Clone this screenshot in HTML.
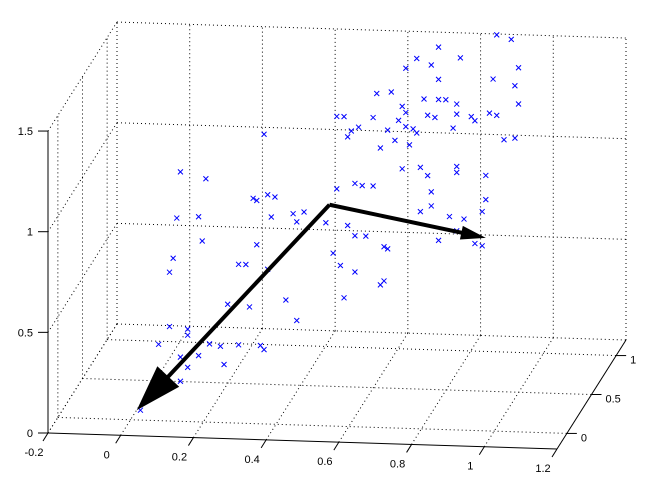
<!DOCTYPE html>
<html><head><meta charset="utf-8"><style>
html,body{margin:0;padding:0;background:#fff;width:649px;height:481px;overflow:hidden}
svg text{font-family:"Liberation Sans",Arial,sans-serif;font-size:11px;fill:#000}
</style></head><body>
<svg id="chart" width="649" height="481" viewBox="0 0 649 481" xmlns="http://www.w3.org/2000/svg">
<g id="grid"></g>
<g id="axes"></g>
<g id="points"></g>
<g id="arrows"></g>
</svg>
<script>
var xTicks = [-0.2, 0, 0.2, 0.4, 0.6, 0.8, 1, 1.2];
var xTickLabels = ["-0.2", "0", "0.2", "0.4", "0.6", "0.8", "1", "1.2"];
var yTicks = [0, 0.5, 1];
var yTickLabels = ["0", "0.5", "1"];
var zTicks = [0, 0.5, 1, 1.5];
var zTickLabels = ["0", "0.5", "1", "1.5"];
var pointX = [0.98,0.82,1.02,0.76,0.80,0.82,0.88,0.73,0.97,1.04,1.03,1.04,0.98,0.96,0.87,0.84,0.78,0.82,0.72,0.73,0.69,0.65,0.64,0.71,0.54,0.56,0.60,0.58,0.57,0.73,0.75,0.76,0.66,0.86,0.87,0.91,0.92,1.00,1.03,0.81,0.79,0.68,0.70,0.74,
0.34,0.11,0.18,0.10,0.16,0.17,0.31,0.35,0.37,0.32,0.36,0.42,0.45,0.54,0.59,0.61,0.64,0.72,0.87,0.77,0.79,0.80,0.87,0.95,0.95,0.94,0.89,0.80,0.77,0.85,0.87,0.82,0.92,0.94,0.59,0.62,0.67,0.68,0.53,0.55,0.59,0.67,0.66,0.56,0.40,0.43,0.27,0.29,0.09,0.08,0.30,0.35,0.32,0.24,0.43,0.51,0.57,
0.08,0.13,0.13,0.05,0.19,0.22,0.27,0.33,0.34,0.11,0.16,0.13,0.23,0.07,0.00,0.11];
var pointY = 0.2;
var pointZ = [1.89,1.82,1.87,1.76,1.73,1.66,1.77,1.71,1.67,1.73,1.64,1.55,1.49,1.50,1.54,1.56,1.56,1.56,1.52,1.49,1.59,1.58,1.46,1.45,1.46,1.46,1.41,1.39,1.36,1.42,1.41,1.39,1.31,1.42,1.49,1.48,1.46,1.37,1.38,1.47,1.48,1.40,1.35,1.33,
1.36,1.16,1.13,0.93,0.94,0.82,1.04,1.06,1.05,1.03,0.95,0.97,0.98,1.10,1.13,1.12,1.12,1.21,1.23,1.22,1.18,1.10,1.20,1.19,1.07,1.01,0.97,1.03,1.00,0.98,0.91,0.86,0.85,0.84,0.87,0.87,0.82,0.81,0.78,0.72,0.69,0.65,0.63,0.56,0.54,0.44,0.71,0.71,0.73,0.66,0.50,0.69,0.81,0.51,0.93,0.93,0.92,
0.39,0.38,0.35,0.30,0.31,0.30,0.31,0.31,0.29,0.24,0.25,0.19,0.21,0.11,-0.03,0.12];
var arrowOrigin = [0.52, 0.2, 1.02];
var arrowTip1 = [-0.01, 0.2, -0.03];
var arrowTip2 = [0.95, 0.2, 0.88];

var NS = "http://www.w3.org/2000/svg";
var O = [48, 433], AX = [509, 16], AY = [69, -109], AZ = 201.3;
function P(x, y, z) {
  var u = (x + 0.2) / 1.4, v = (y + 0.2) / 1.4;
  return [O[0] + u * AX[0] + v * AY[0], O[1] + u * AX[1] + v * AY[1] - z * AZ];
}
function mk(tag, parent, attrs) {
  var e = document.createElementNS(NS, tag);
  for (var k in attrs) e.setAttribute(k, attrs[k]);
  parent.appendChild(e);
  return e;
}
var grid = document.getElementById("grid"), axes = document.getElementById("axes");
var pts = document.getElementById("points"), arr = document.getElementById("arrows");
function dline(a, b, name) {
  var l = mk("line", grid, {x1: a[0], y1: a[1], x2: b[0], y2: b[1], stroke: "#000", "stroke-width": 1, "stroke-dasharray": "1,3"});
  
  
}
var yEdges = [-0.2, 0, 0.5, 1, 1.2];
// back wall y=1.2
xTicks.forEach(function (x) { dline(P(x, 1.2, 0), P(x, 1.2, 1.5), "back-wall-gridline"); });
zTicks.forEach(function (z) { dline(P(-0.2, 1.2, z), P(1.2, 1.2, z), "back-wall-gridline"); });
// left wall x=-0.2
yEdges.forEach(function (y) { if (y > -0.2) dline(P(-0.2, y, 0), P(-0.2, y, 1.5), "left-wall-gridline"); });
zTicks.forEach(function (z) { dline(P(-0.2, -0.2, z), P(-0.2, 1.2, z), "left-wall-gridline"); });
// floor
xTicks.forEach(function (x) { if (x < 1.2) dline(P(x, -0.2, 0), P(x, 1.2, 0), "floor-gridline"); });
yTicks.forEach(function (y) { dline(P(-0.2, y, 0), P(1.2, y, 0), "floor-gridline"); });

function sline(a, b, name) {
  var l = mk("line", axes, {x1: a[0], y1: a[1], x2: b[0], y2: b[1], stroke: "#000", "stroke-width": 1});
  
  
}
function label(x, y, t, anchor, name) {
  var e = mk("text", axes, {x: x, y: y, "text-anchor": anchor});
  e.textContent = t;
  
  
}
sline(P(-0.2, -0.2, 0), P(1.2, -0.2, 0), "x-axis-line");
sline(P(1.2, -0.2, 0), P(1.2, 1.2, 0), "y-axis-line");
sline(P(-0.2, -0.2, 0), P(-0.2, -0.2, 1.5), "z-axis-line");
xTicks.forEach(function (x, i) {
  var p = P(x, -0.2, 0);
  sline(p, [p[0] - 5, p[1] + 8], "x-tick");
  label(p[0] - 14, p[1] + 23, xTickLabels[i], "middle", "x-tick-label");
});
yTicks.forEach(function (y, i) {
  var p = P(1.2, y, 0);
  sline(p, [p[0] + 10, p[1]], "y-tick");
  label(p[0] + 14, p[1] + 8, yTickLabels[i], "start", "y-tick-label");
});
zTicks.forEach(function (z, i) {
  var p = P(-0.2, -0.2, z);
  sline(p, [p[0] - 10, p[1]], "z-tick");
  label(p[0] - 15, p[1] + 4, zTickLabels[i], "end", "z-tick-label");
});

pointX.forEach(function (x, i) {
  var p = P(x, pointY, pointZ[i]);
  var d = "M" + (p[0] - 2.5) + " " + (p[1] - 2.5) + "L" + (p[0] + 2.5) + " " + (p[1] + 2.5) +
          "M" + (p[0] - 2.5) + " " + (p[1] + 2.5) + "L" + (p[0] + 2.5) + " " + (p[1] - 2.5);
  var m = mk("path", pts, {d: d, stroke: "#0000ff", "stroke-width": 1, fill: "none"});
  
  
});

function arrow(from, to, hl, hw, name) {
  var a = P(from[0], from[1], from[2]), b = P(to[0], to[1], to[2]);
  var dx = b[0] - a[0], dy = b[1] - a[1], L = Math.sqrt(dx * dx + dy * dy);
  var ux = dx / L, uy = dy / L;
  var bx = b[0] - ux * hl, by = b[1] - uy * hl;
  var g = mk("g", arr, {});
  
  
  mk("line", g, {x1: a[0], y1: a[1], x2: bx + ux * 2, y2: by + uy * 2, stroke: "#000", "stroke-width": 4});
  mk("polygon", g, {points: b[0] + "," + b[1] + " " + (bx - uy * hw / 2) + "," + (by + ux * hw / 2) + " " + (bx + uy * hw / 2) + "," + (by - ux * hw / 2), fill: "#000"});
}
arrow(arrowOrigin, arrowTip1, 46, 30, "arrow-vector-1");
arrow(arrowOrigin, arrowTip2, 25, 14, "arrow-vector-2");
</script>
</body></html>
